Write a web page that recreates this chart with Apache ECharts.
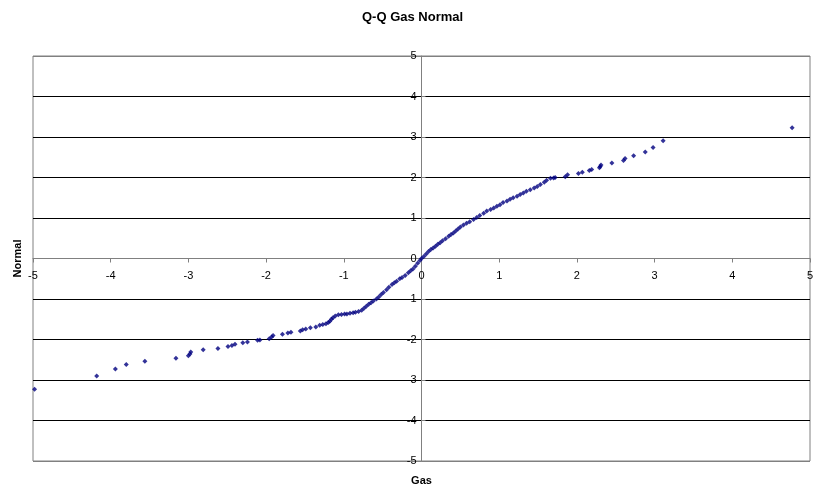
<!DOCTYPE html>
<html>
<head>
<meta charset="utf-8">
<script src="https://cdn.jsdelivr.net/npm/echarts@6/dist/echarts.min.js"></script>
<style>
  html, body { margin: 0; padding: 0; background: #fff; }
  #chart { width: 813px; height: 491px; }
</style>
</head>
<body>
<div id="chart"></div>
<script>
// Sample quantiles of Gas (x) against the normal quantiles (y)
const gasQuantiles = [
  -4.98, -4.18, -3.94, -3.80, -3.56, -3.16, -3.00, -2.98, -2.97, -2.81,
  -2.62, -2.49, -2.44, -2.40, -2.30, -2.24, -2.11, -2.08, -1.96, -1.93,
  -1.91, -1.79, -1.72, -1.68, -1.56, -1.53, -1.49, -1.43, -1.36, -1.31,
  -1.27, -1.23, -1.20, -1.18, -1.16, -1.14, -1.11, -1.07, -1.03, -0.99,
  -0.96, -0.92, -0.88, -0.85, -0.81, -0.77, -0.74, -0.71, -0.68, -0.65,
  -0.62, -0.58, -0.55, -0.52, -0.49, -0.45, -0.42, -0.38, -0.35, -0.32,
  -0.28, -0.25, -0.21, -0.17, -0.14, -0.11, -0.08, -0.05, -0.02, 0.00,
  0.03, 0.06, 0.09, 0.12, 0.15, 0.18, 0.21, 0.24, 0.27, 0.31,
  0.35, 0.38, 0.41, 0.44, 0.47, 0.50, 0.54, 0.58, 0.62, 0.67,
  0.71, 0.75, 0.80, 0.84, 0.89, 0.93, 0.97, 1.01, 1.05, 1.10,
  1.14, 1.18, 1.23, 1.27, 1.31, 1.35, 1.40, 1.45, 1.49, 1.53,
  1.58, 1.61, 1.66, 1.70, 1.72, 1.85, 1.88, 2.02, 2.07, 2.16,
  2.19, 2.29, 2.30, 2.31, 2.45, 2.60, 2.62, 2.73, 2.88, 2.98,
  3.11, 4.77
];
const normalQuantiles = [
  -3.23, -2.90, -2.73, -2.62, -2.54, -2.46, -2.40, -2.36, -2.31, -2.25,
  -2.22, -2.17, -2.15, -2.12, -2.08, -2.06, -2.02, -2.01, -1.98, -1.94,
  -1.90, -1.87, -1.84, -1.82, -1.79, -1.76, -1.74, -1.71, -1.69, -1.65,
  -1.63, -1.61, -1.58, -1.55, -1.50, -1.46, -1.42, -1.39, -1.38, -1.37,
  -1.37, -1.35, -1.34, -1.33, -1.31, -1.28, -1.23, -1.18, -1.13, -1.09,
  -1.05, -1.00, -0.95, -0.89, -0.84, -0.77, -0.71, -0.64, -0.60, -0.56,
  -0.50, -0.47, -0.42, -0.35, -0.30, -0.26, -0.19, -0.12, -0.05, 0.00,
  0.05, 0.11, 0.17, 0.22, 0.26, 0.30, 0.35, 0.39, 0.44, 0.49,
  0.55, 0.59, 0.63, 0.68, 0.73, 0.78, 0.83, 0.87, 0.91, 0.96,
  1.01, 1.06, 1.12, 1.17, 1.21, 1.25, 1.29, 1.33, 1.38, 1.42,
  1.46, 1.50, 1.54, 1.58, 1.62, 1.66, 1.70, 1.74, 1.78, 1.83,
  1.88, 1.93, 1.98, 1.99, 2.00, 2.02, 2.07, 2.10, 2.13, 2.17,
  2.20, 2.24, 2.27, 2.31, 2.36, 2.42, 2.47, 2.54, 2.63, 2.74,
  2.91, 3.23
];
const axisMin = -5;
const axisMax = 5;

const points = gasQuantiles.map((g, i) => [g, normalQuantiles[i]]);

// Plot area in pixels; the axes cross at (0, 0) in the middle of it
const plot = { left: 33, right: 3, top: 56, bottom: 30, width: 777, height: 405 };
const xAxisShift = -(plot.height / 2);   // move x axis from bottom edge up to y = 0
const yAxisShift = -(plot.width / 2);    // move y axis from left edge across to x = 0

// Horizontal gridlines are black; the frame edges and the zero line are grey
const gridColors = [];
for (let v = axisMin; v <= axisMax; v++) {
  gridColors.push(v === axisMin || v === axisMax || v === 0 ? '#808080' : '#000');
}

const chart = echarts.init(document.getElementById('chart'));
const fontFamily = 'Liberation Sans, Arial, sans-serif';
const labelFont = { color: '#000', fontSize: 11, fontFamily: fontFamily };
const nameFont = { fontSize: 11, fontWeight: 'bold', color: '#000', fontFamily: fontFamily };

chart.setOption({
  animation: false,
  backgroundColor: '#fff',
  title: {
    text: 'Q-Q Gas Normal',
    left: 357,
    top: 6,
    textStyle: { fontSize: 13, fontWeight: 'bold', color: '#000', fontFamily: fontFamily }
  },
  grid: {
    left: plot.left, right: plot.right, top: plot.top, bottom: plot.bottom,
    containLabel: false, outerBoundsMode: 'none',
    show: true, borderColor: '#808080', borderWidth: 1, backgroundColor: '#fff'
  },
  xAxis: {
    type: 'value', min: axisMin, max: axisMax, interval: 1,
    position: 'bottom', offset: xAxisShift,
    name: 'Gas', nameLocation: 'middle', nameGap: 217, nameTextStyle: nameFont,
    axisLine: { onZero: false, lineStyle: { color: '#808080', width: 1 } },
    axisTick: { show: true, length: 4, lineStyle: { color: '#808080' } },
    axisLabel: Object.assign({ margin: 12 }, labelFont),
    splitLine: { show: false }
  },
  yAxis: {
    type: 'value', min: axisMin, max: axisMax, interval: 1,
    position: 'left', offset: yAxisShift,
    name: 'Normal', nameLocation: 'middle', nameGap: 398, nameRotate: 90, nameTextStyle: nameFont,
    axisLine: { onZero: false, lineStyle: { color: '#808080', width: 1 } },
    axisTick: { show: true, inside: true, length: 4, lineStyle: { color: '#808080' } },
    axisLabel: Object.assign({ margin: 5 }, labelFont),
    splitLine: { show: true, lineStyle: { color: gridColors, width: 1 } }
  },
  series: [{
    type: 'scatter',
    data: points,
    symbol: 'diamond',
    symbolSize: 5,
    itemStyle: { color: '#000080' }
  }]
});
</script>
</body>
</html>
